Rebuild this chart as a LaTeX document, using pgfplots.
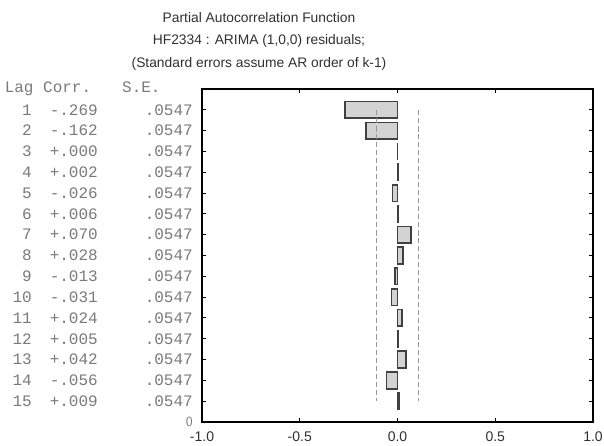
\documentclass[border=0pt]{standalone}
\usepackage{fontspec}
\setmainfont{Liberation Sans}
\setmonofont{Liberation Mono}
\usepackage{pgfplots}
\usepackage{pgfplotstable}
\pgfplotsset{compat=1.18}

\definecolor{txtgray}{HTML}{7A7A7A}
\definecolor{titlegray}{HTML}{303030}
\definecolor{barfill}{HTML}{D3D3D3}
\definecolor{baredge}{HTML}{404040}
\definecolor{limgray}{HTML}{989898}

% Partial autocorrelations with their standard errors
\pgfplotstableread{
lag corr se
1  -0.269 0.0547
2  -0.162 0.0547
3   0.000 0.0547
4   0.002 0.0547
5  -0.026 0.0547
6   0.006 0.0547
7   0.070 0.0547
8   0.028 0.0547
9  -0.013 0.0547
10 -0.031 0.0547
11  0.024 0.0547
12  0.005 0.0547
13  0.042 0.0547
14 -0.056 0.0547
15  0.009 0.0547
}\pacf

% one row of the lag table shown beside the axis
\newcommand\pacfrow[3]{\makebox[183pt][s]{\makebox[22pt][r]{#1}\hspace{18pt}#2\hfill#3}}

\begin{document}
\begin{tikzpicture}
\useasboundingbox (0,0) rectangle (604pt,445pt);

\node[font=\fontsize{13.8}{16}\selectfont, text=titlegray] at (259pt,427pt) {Partial Autocorrelation Function};
\node[font=\fontsize{13.8}{16}\selectfont, text=titlegray] at (259pt,404pt) {HF2334 : ARIMA (1,0,0) residuals;};
\node[font=\fontsize{13.8}{16}\selectfont, text=titlegray] at (259pt,381pt) {(Standard errors assume AR order of k-1)};

\begin{axis}[
  at={(202pt,23pt)}, anchor=south west,
  scale only axis, width=391pt, height=333pt,
  xmin=-1, xmax=1, ymin=0, ymax=16,
  axis line style={draw=black, line width=1.8pt},
  xtick={-1,-0.5,0,0.5,1},
  ytick={0,...,16},
  tick align=inside,
  major tick length=4pt,
  every tick/.style={black, line width=1pt},
  xticklabel style={font=\fontsize{14}{14}\selectfont, text=titlegray, yshift=-6pt,
    /pgf/number format/.cd, fixed, fixed zerofill, precision=1, assume math mode=true},
  yticklabel style={font=\ttfamily\fontsize{16}{16}\selectfont, text=txtgray, inner sep=0pt, xshift=-9pt},
  yticklabels={
    {\sffamily\fontsize{14}{14}\selectfont 0},
    \pacfrow{15}{+.009}{.0547},
    \pacfrow{14}{-.056}{.0547},
    \pacfrow{13}{+.042}{.0547},
    \pacfrow{12}{+.005}{.0547},
    \pacfrow{11}{+.024}{.0547},
    \pacfrow{10}{-.031}{.0547},
    \pacfrow{9}{-.013}{.0547},
    \pacfrow{8}{+.028}{.0547},
    \pacfrow{7}{+.070}{.0547},
    \pacfrow{6}{+.006}{.0547},
    \pacfrow{5}{-.026}{.0547},
    \pacfrow{4}{+.002}{.0547},
    \pacfrow{3}{+.000}{.0547},
    \pacfrow{2}{-.162}{.0547},
    \pacfrow{1}{-.269}{.0547},
    {\makebox[188pt][l]{Lag\hspace{9.6pt}Corr.\hspace{31pt}S.E.}}
  },
  clip=false,
]
\addplot[xbar, bar width=0.8, bar shift=0pt, fill=barfill, draw=baredge, line width=1.6pt]
  table[x=corr, y expr=16-\thisrow{lag}] {\pacf};
\addplot[limgray, line width=1.2pt, dash pattern=on 5pt off 3pt]
  table[x expr=-2*\thisrow{se}, y expr=16-\thisrow{lag}] {\pacf};
\addplot[limgray, line width=1.2pt, dash pattern=on 5pt off 3pt]
  table[x expr=2*\thisrow{se}, y expr=16-\thisrow{lag}] {\pacf};
% heavy frame round the plotting area
\draw[black, line width=1.8pt] (rel axis cs:0,0) rectangle (rel axis cs:1,1);
\end{axis}
\end{tikzpicture}
\end{document}
